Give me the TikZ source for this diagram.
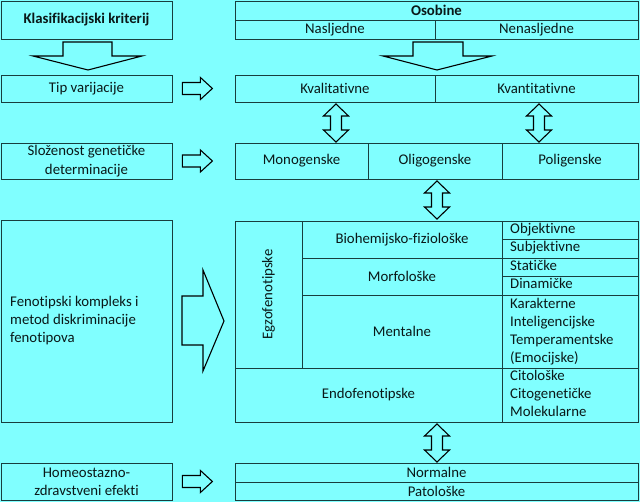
\documentclass[tikz,border=0pt]{standalone}
\usepackage{fontspec}
\setmainfont{Carlito}[Ligatures=NoCommon]
\definecolor{bgc}{RGB}{128,255,255}
\definecolor{linec}{RGB}{24,62,62}
\definecolor{txtc}{RGB}{10,24,24}
\begin{document}
\begin{tikzpicture}[x=1pt,y=-1pt,
  every node/.style={font=\fontsize{14.8}{18}\selectfont, text=txtc},
  box/.style={draw=linec, line width=0.8pt, inner sep=0pt, anchor=center},
  lbl/.style={inner sep=0pt, anchor=west, text height=10pt, text depth=3pt},
  arr/.style={draw=black, line width=1.1pt, fill=bgc, line join=miter},
  dbl/.pic={\draw[arr] (0,0) -- (12.5,12) -- (5.5,12) -- (5.5,26) -- (12.5,26) -- (0,38) -- (-12.5,26) -- (-5.5,26) -- (-5.5,12) -- (-12.5,12) -- cycle;},
  rarr/.pic={\draw[arr] (0,-6) -- (18,-6) -- (18,-11) -- (30,0) -- (18,11) -- (18,6) -- (0,6) -- cycle;}
]
\fill[bgc] (0,0) rectangle (640,502);
\useasboundingbox (0,0) rectangle (640,502);

% left column
\node[box, minimum width=171pt, minimum height=38pt, font=\fontsize{14.8}{18}\selectfont\bfseries] (klas) at (86.5,20) {Klasifikacijski kriterij};
\node[box, minimum width=171pt, minimum height=27pt] (tip) at (86.5,88.5) {Tip varijacije};
\node[box, minimum width=171pt, minimum height=36pt, align=center, font=\fontsize{14.8}{19}\selectfont] (sloz) at (86.5,161) {Složenost genetičke\\determinacije};
\node[box, minimum width=171pt, minimum height=202pt] (feno) at (86.5,321) {};
\node[inner sep=0pt, anchor=north west, align=left] (fenotxt) at (10,296) {Fenotipski kompleks i\\metod diskriminacije\\fenotipova};
\node[box, minimum width=171pt, minimum height=37pt, align=center] (homeo) at (86.5,481.5) {Homeostazno-\\zdravstveni efekti};

% right: osobine
\node[box, minimum width=403pt, minimum height=19pt, font=\fontsize{14.8}{18}\selectfont\bfseries] (osob) at (436.5,10.5) {Osobine};
\node[box, minimum width=200pt, minimum height=19pt] (nasl) at (335,29.5) {Nasljedne};
\node[box, minimum width=203pt, minimum height=19pt] (nenasl) at (536.5,29.5) {Nenasljedne};

% kvalitativne
\node[box, minimum width=200pt, minimum height=27pt] (kval) at (335,88.5) {Kvalitativne};
\node[box, minimum width=203pt, minimum height=27pt] (kvan) at (536.5,88.5) {Kvantitativne};

% monogenske
\node[box, minimum width=133pt, minimum height=36pt] (mono) at (301.5,161) {Monogenske};
\node[box, minimum width=134pt, minimum height=36pt] (oligo) at (435,161) {Oligogenske};
\node[box, minimum width=136pt, minimum height=36pt] (poli) at (570,161) {Poligenske};

% big table
\node[box, minimum width=67pt, minimum height=147pt] (egzo) at (268.5,294.5) {};
\node[rotate=90, inner sep=0pt] (egzotxt) at (268.5,294.5) {Egzofenotipske};
\node[box, minimum width=200pt, minimum height=37pt] (bio) at (402,239.5) {Biohemijsko-fiziološke};
\node[box, minimum width=200pt, minimum height=37pt] (morf) at (402,276.5) {Morfološke};
\node[box, minimum width=200pt, minimum height=73pt] (ment) at (402,331.5) {Mentalne};
\node[box, minimum width=267pt, minimum height=54pt] (endo) at (368.5,395) {Endofenotipske};
\node[box, minimum width=136pt, minimum height=18pt] (obj) at (570,230) {};
\node[box, minimum width=136pt, minimum height=19pt] (subj) at (570,248.5) {};
\node[box, minimum width=136pt, minimum height=18pt] (stat) at (570,267) {};
\node[box, minimum width=136pt, minimum height=19pt] (dina) at (570,285.5) {};
\node[box, minimum width=136pt, minimum height=73pt] (mlist) at (570,331.5) {};
\node[box, minimum width=136pt, minimum height=54pt] (elist) at (570,395) {};
\node[lbl] (tobj) at (510,230) {Objektivne};
\node[lbl] (tsubj) at (510,248.5) {Subjektivne};
\node[lbl] (tstat) at (510,267) {Statičke};
\node[lbl] (tdina) at (510,285.5) {Dinamičke};
\node[lbl] (tkar) at (510,305) {Karakterne};
\node[lbl] (tint) at (510,323) {Inteligencijske};
\node[lbl] (ttem) at (510,341) {Temperamentske};
\node[lbl] (temo) at (510,359) {(Emocijske)};
\node[lbl] (tcit) at (510,377) {Citološke};
\node[lbl] (tcgen) at (510,395) {Citogenetičke};
\node[lbl] (tmol) at (510,413) {Molekularne};

% normalne
\node[box, minimum width=403pt, minimum height=19pt] (norm) at (436.5,472.5) {Normalne};
\node[box, minimum width=403pt, minimum height=18pt] (pato) at (436.5,491) {Patološke};

% down arrows
\draw[arr] (63,42) -- (112,42) -- (112,56) -- (142,56) -- (88,70) -- (33,56) -- (63,56) -- cycle;
\draw[arr] (413,42) -- (463,42) -- (463,56) -- (492,56) -- (437,70) -- (383,56) -- (413,56) -- cycle;

% right arrows
\pic at ([xshift=10pt]tip.east) {rarr};
\pic at ([xshift=10pt]sloz.east) {rarr};
\pic at ([xshift=10pt]homeo.east) {rarr};
\draw[arr] (182,296) -- (203,296) -- (203,270) -- (224,321) -- (203,371) -- (203,345) -- (182,345) -- cycle;

% double arrows
\pic at (336,104) {dbl};
\pic at (539,104) {dbl};
\pic at (437,181) {dbl};
\pic at (437,424) {dbl};
\end{tikzpicture}
\end{document}
